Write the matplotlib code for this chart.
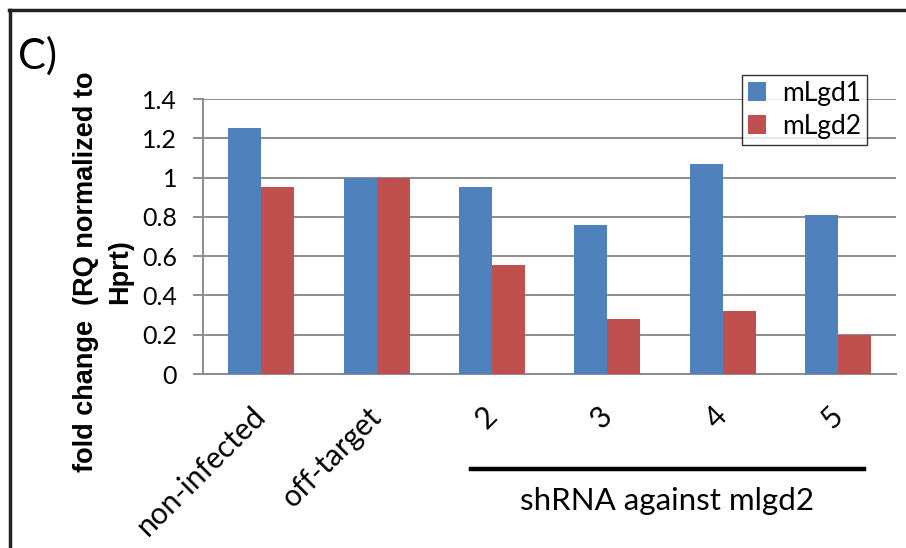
import numpy as np
import matplotlib
matplotlib.use("Agg")
import matplotlib.pyplot as plt
from matplotlib.lines import Line2D

# data
categories = ["non-infected", "off-target", "2", "3", "4", "5"]
mlgd1 = [1.25, 1.0, 0.95, 0.76, 1.07, 0.81]
mlgd2 = [0.95, 1.0, 0.555, 0.28, 0.32, 0.20]
yticks = [0, 0.2, 0.4, 0.6, 0.8, 1.0, 1.2, 1.4]
ytick_labels = ["0", "0.2", "0.4", "0.6", "0.8", "1", "1.2", "1.4"]

blue = "#4F81BD"
red = "#C0504D"
grid_col = "#8c8c8c"
tick_font = "Lato"

fig = plt.figure(figsize=(9.06, 5.48), dpi=100)
ax = fig.add_axes([0.2246, 0.3175, 0.7643, 0.5018])

x = np.arange(len(categories))
w = 0.286
ax.bar(x - w / 2, mlgd1, w, color=blue, label="mLgd1", zorder=3)
ax.bar(x + w / 2, mlgd2, w, color=red, label="mLgd2", zorder=3)

ax.set_xlim(-0.5, len(categories) - 0.5)
ax.set_ylim(0, 1.4)
ax.set_yticks(yticks)
ax.set_yticklabels(ytick_labels, fontsize=18, family=tick_font)
ax.yaxis.grid(True, color=grid_col, linewidth=1.4, zorder=0)
ax.set_axisbelow(True)

for s in ["top", "right"]:
    ax.spines[s].set_visible(False)
ax.spines["left"].set_color(grid_col)
ax.spines["left"].set_linewidth(1.4)
ax.spines["bottom"].set_color(grid_col)
ax.spines["bottom"].set_linewidth(1.4)
ax.tick_params(axis="y", length=7, width=1.4, color=grid_col, pad=12)
ax.tick_params(axis="x", length=0, pad=27)

ax.set_xticks(x)
ax.set_xticklabels(categories, fontsize=21.5, family=tick_font, rotation=45,
                   ha="right", va="center", rotation_mode="anchor")

# y label placed by hand (sits lower than the axes centre in the original)
fig.text(0.1135, 0.505, "fold change  (RQ normalized to\nHprt)", fontsize=19.5,
         fontweight="bold", family="Liberation Sans", rotation=90,
         ha="center", va="center", multialignment="center", linespacing=1.42)

# bracket line and group label under the shRNA columns
trans = ax.get_xaxis_transform()
ax.add_line(Line2D([1.816, 5.227], [-0.345, -0.345], transform=trans,
                   color="black", linewidth=3.2, clip_on=False))
ax.text(3.52, -0.46, "shRNA against mlgd2", transform=trans, ha="center",
        va="center", fontsize=22.5, family=tick_font)

leg = ax.legend(loc="upper right", bbox_to_anchor=(0.958, 1.087),
                prop={"family": tick_font, "size": 19}, frameon=True,
                fancybox=False, edgecolor="black", handlelength=0.7,
                handleheight=0.7, handletextpad=0.6, borderpad=0.22,
                labelspacing=0.3, borderaxespad=0)
leg.get_frame().set_linewidth(1.0)
leg.set_zorder(5)

fig.text(0.02, 0.898, "C)", fontsize=30, family=tick_font, va="center")

# outer frame (top and left edges)
fig.add_artist(Line2D([0.01, 1.0], [0.981, 0.981], transform=fig.transFigure,
                      color="#222222", linewidth=2.5))
fig.add_artist(Line2D([0.011, 0.011], [0.0, 0.981], transform=fig.transFigure,
                      color="#222222", linewidth=2.5))

fig.savefig("out.png", dpi=100)
